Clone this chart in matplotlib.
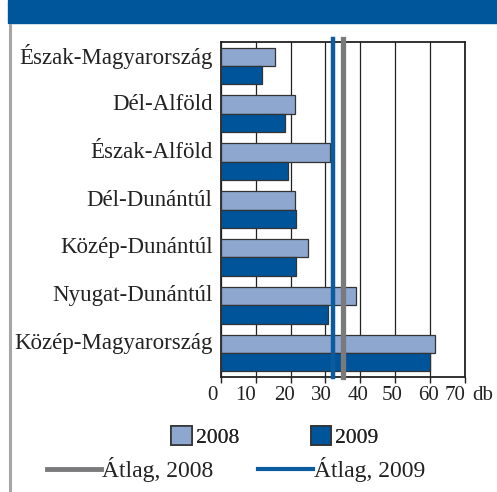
import matplotlib
matplotlib.use("Agg")
import matplotlib.pyplot as plt
from matplotlib.patches import Patch, Rectangle
from matplotlib.lines import Line2D
import matplotlib.transforms as mtransforms
import numpy as np

plt.rcParams['font.family'] = ['Liberation Serif', 'DejaVu Serif']
SERIF = ['Liberation Serif', 'DejaVu Serif']

categories = ["Észak-Magyarország", "Dél-Alföld", "Észak-Alföld", "Dél-Dunántúl",
              "Közép-Dunántúl", "Nyugat-Dunántúl", "Közép-Magyarország"]
values_2008 = [15.4, 21.4, 31.2, 21.2, 25.0, 38.8, 61.5]
values_2009 = [11.9, 18.5, 19.3, 21.5, 21.5, 30.8, 60.0]
avg_2008 = 35.0
avg_2009 = 32.1
xticks = [0, 10, 20, 30, 40, 50, 60, 70]
unit = "db"

c08 = "#8DA7CF"
c09 = "#00559A"
cavg08 = "#7A7A7C"
cavg09 = "#0A5C9E"
tc = "#222222"

W, H = 497, 492
fig = plt.figure(figsize=(W / 100, H / 100), dpi=100)

# header band and left rule
fig.patches.append(Rectangle((8 / W, 1 - 23 / H), 1, 23 / H, transform=fig.transFigure,
                             color="#00569A", zorder=0))
fig.add_artist(Line2D([10 / W, 10 / W], [0, 1 - 25 / H], transform=fig.transFigure,
                      color="#A6A6A6", lw=2.2))

ax = fig.add_axes([221 / W, 1 - 377 / H, (464.5 - 221) / W, (377 - 42) / H])
y = np.arange(len(categories))
h = 0.385
ax.barh(y - h / 2, values_2008, height=h, color=c08, edgecolor="#333333", linewidth=0.9, zorder=3)
ax.barh(y + h / 2, values_2009, height=h, color=c09, edgecolor="#333333", linewidth=0.9, zorder=3)
ax.axvline(avg_2008, ymin=0, ymax=1.008, color=cavg08, lw=3.8, zorder=4, clip_on=False)
ax.axvline(avg_2009, ymin=0, ymax=1.01, color=cavg09, lw=3.2, zorder=4, clip_on=False)

ax.set_xlim(0, 70)
ax.set_ylim(len(categories) - 0.5, -0.5)
ax.set_xticks(xticks)
ax.set_xticklabels([str(t) for t in xticks], fontsize=15, color=tc, family=SERIF)
ax.set_yticks(y)
ax.set_yticklabels(categories, fontsize=16.5, color=tc, family=SERIF)
ax.tick_params(axis='y', length=0, pad=6)
ax.tick_params(axis='x', length=4.3, width=1, color=tc, pad=2)
# tick labels in the reference sit slightly off their ticks
label_shift_px = [-9, -10, -6, -4, -2.5, -3.3, -1, -9]
for lab, dx in zip(ax.get_xticklabels(), label_shift_px):
    lab.set_transform(lab.get_transform() +
                      mtransforms.ScaledTranslation(dx / 100, 0, fig.dpi_scale_trans))
for lab in ax.get_yticklabels():
    lab.set_transform(lab.get_transform() +
                      mtransforms.ScaledTranslation(0, 12 / 100, fig.dpi_scale_trans))
ax.grid(axis='x', color=tc, lw=0.9, zorder=1)
for s in ax.spines.values():
    s.set_color(tc)
    s.set_linewidth(1.3)
ax.text(1.03, -0.027, unit, transform=ax.transAxes, fontsize=15, color=tc,
        ha="left", va="top", family=SERIF)

leg1 = fig.legend(handles=[Patch(facecolor=c08, edgecolor="#333333", linewidth=1.2, label="2008"),
                           Patch(facecolor=c09, edgecolor="#333333", linewidth=1.2, label="2009")],
                  loc="center", bbox_to_anchor=(275 / W, 1 - 437 / H), ncol=2, frameon=False,
                  prop={'family': SERIF, 'size': 15.5}, handlelength=0.95, handleheight=0.95,
                  handletextpad=0.2, columnspacing=3.3, borderpad=0, labelcolor=tc)
leg2 = fig.legend(handles=[Line2D([], [], color=cavg08, lw=3.5, label="Átlag, 2008"),
                           Line2D([], [], color=cavg09, lw=3.0, label="Átlag, 2009")],
                  loc="center", bbox_to_anchor=(236 / W, 1 - 470 / H), ncol=2, frameon=False,
                  prop={'family': SERIF, 'size': 17}, handlelength=2.3, handletextpad=0.05,
                  columnspacing=1.9, borderpad=0, labelcolor=tc)
fig.add_artist(leg1)

fig.savefig("out.png", dpi=100)
